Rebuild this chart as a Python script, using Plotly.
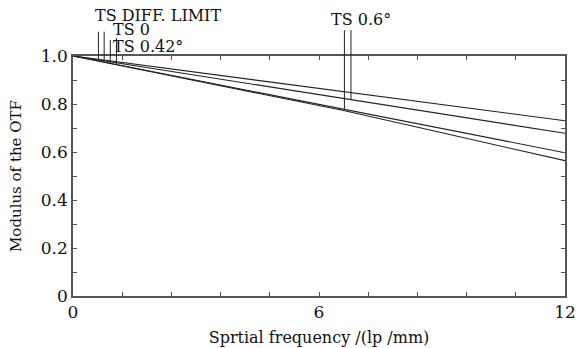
import plotly.graph_objects as go
import numpy as np

# Data
freq = [0, 3, 6.6, 9, 12]
curve_diff = [1.0, 0.932, 0.852, 0.798, 0.730]
curve_ts0 = [1.0, 0.919, 0.822, 0.758, 0.678]
curve_ts042 = [1.0, 0.899, 0.778, 0.697, 0.597]
curve_ts06 = [1.0, 0.897, 0.773, 0.680, 0.564]
curves = [curve_diff, curve_ts0, curve_ts042, curve_ts06]

x_ticks = [0, 1.2, 2.4, 3.6, 4.8, 6, 7.2, 8.4, 9.6, 10.8, 12]
x_ticktext = ["0", "", "", "", "", "6", "", "", "", "", "12"]
y_ticks = [0, 0.1, 0.2, 0.3, 0.4, 0.5, 0.6, 0.7, 0.8, 0.9, 1.0]
y_ticktext = ["0", "", "0.2", "", "0.4", "", "0.6", "", "0.8", "", "1.0"]

# legend marker lines: x position (data), top (paper), curve index
marker_x = [0.62, 0.76, 0.91, 1.06, 6.62, 6.78]
marker_top = [1.101, 1.101, 1.067, 1.075, 1.108, 1.108]
marker_curve = [0, 1, 2, 3, 2, 1]

labels = ["TS DIFF. LIMIT", "TS 0", "TS 0.42°", "TS 0.6°"]
label_pos = [(0.173, 1.167), (0.118, 1.112), (0.153, 1.040), (0.585, 1.154)]

XMAX = 12
FONT = "DejaVu Serif"

fig = go.Figure()
for c in curves:
    fig.add_trace(go.Scatter(x=freq, y=c, mode="lines",
                             line=dict(color="#222", width=1.1),
                             showlegend=False, hoverinfo="skip"))

for mx, top, ci in zip(marker_x, marker_top, marker_curve):
    bottom = float(np.interp(mx, freq, curves[ci]))
    fig.add_shape(type="line", xref="paper", yref="paper",
                  x0=mx / XMAX, x1=mx / XMAX, y0=bottom, y1=top,
                  line=dict(color="#222", width=1))

for txt, (px, py) in zip(labels, label_pos):
    fig.add_annotation(text=txt, xref="paper", yref="paper", x=px, y=py,
                       showarrow=False, xanchor="center", yanchor="middle",
                       font=dict(family=FONT, size=16, color="#111"))

axis_common = dict(showline=True, linecolor="#555", linewidth=1.5, mirror="ticks",
                   ticks="inside", ticklen=4, tickcolor="#555", tickwidth=1,
                   showgrid=False, zeroline=False,
                   tickfont=dict(family=FONT, size=17, color="#111"))

fig.update_xaxes(range=[0, XMAX], tickmode="array", tickvals=x_ticks, ticktext=x_ticktext,
                 title=dict(text="Sprtial frequency /(lp /mm)", standoff=11,
                            font=dict(family=FONT, size=16, color="#111")),
                 **axis_common)
fig.update_yaxes(range=[0, 1], tickmode="array", tickvals=y_ticks, ticktext=y_ticktext,
                 title=dict(text="Modulus of the OTF", standoff=16,
                            font=dict(family=FONT, size=15, color="#111")),
                 **axis_common)

fig.update_layout(width=588, height=348, autosize=False,
                  margin=dict(l=73, r=23, t=56, b=52, autoexpand=False),
                  plot_bgcolor="white", paper_bgcolor="white")

fig.write_html("out.html", config={"displayModeBar": False},
               post_script="document.body.style.margin='0';document.body.style.overflow='hidden';")
